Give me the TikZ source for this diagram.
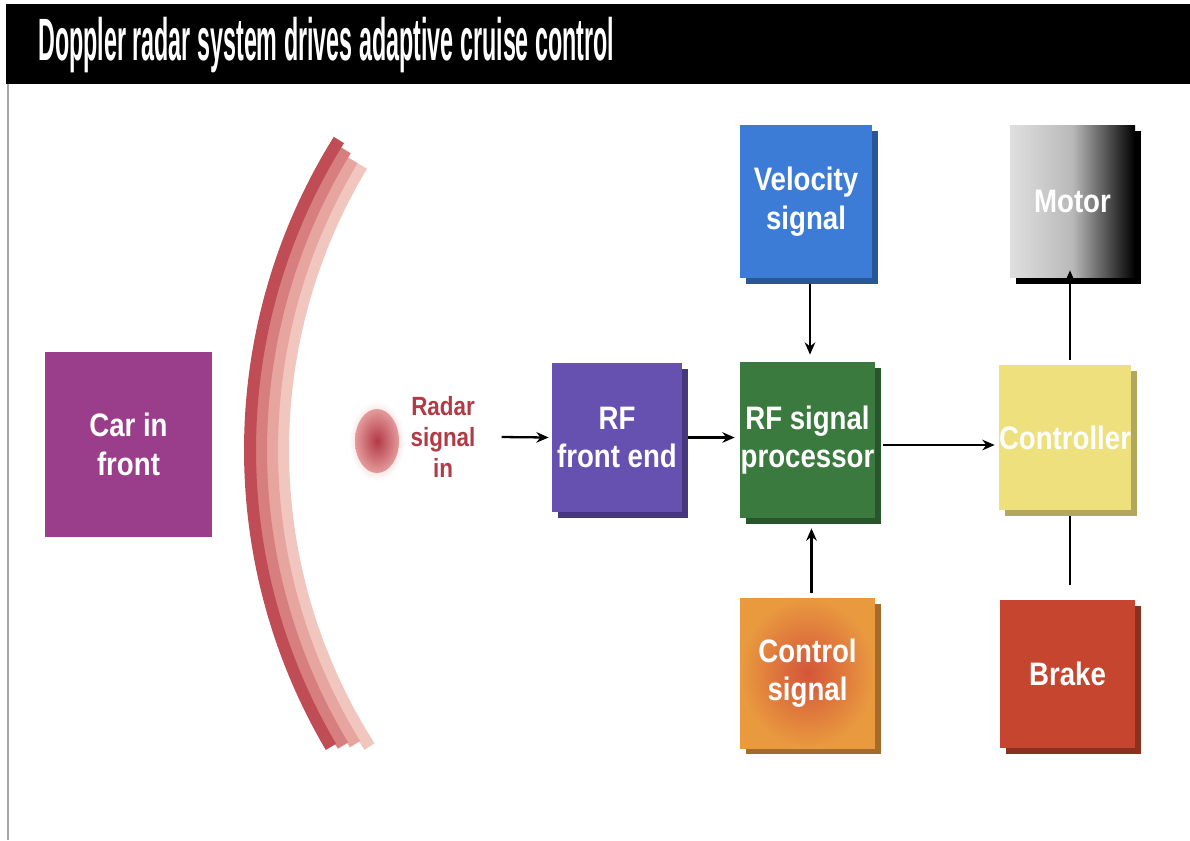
\documentclass[tikz,border=0pt]{standalone}
\usepackage{fontspec}
\setmainfont{Liberation Sans}
\newfontfamily\titlef[FakeStretch=0.39]{Liberation Sans}
\newfontfamily\boxf[FakeStretch=0.85]{Liberation Sans}
\usetikzlibrary{arrows.meta,shadows}
\definecolor{carc}{HTML}{9A3D8A}
\definecolor{rffe}{HTML}{6650B0}
\definecolor{rfsp}{HTML}{3B7A3E}
\definecolor{velc}{HTML}{3C7BD6}
\definecolor{ctrlc}{HTML}{EEE07C}
\definecolor{brakec}{HTML}{C5452F}
\definecolor{orangec}{HTML}{E99A3F}
\definecolor{orangein}{HTML}{D4553A}
\definecolor{radarred}{HTML}{B23A45}
\definecolor{blobpink}{HTML}{E49A9C}
\definecolor{arc1}{HTML}{C04C56}
\definecolor{arc2}{HTML}{D77F7E}
\definecolor{arc3}{HTML}{E6A59F}
\definecolor{arc4}{HTML}{F1C6BF}
\tikzset{
  blk/.style={rectangle, inner sep=0pt, align=center, text=white,
    font=\boxf\bfseries\fontsize{18.5}{22}\selectfont},
  shd/.style={general shadow={fill=#1, shadow xshift=0.12cm, shadow yshift=-0.12cm}},
  arr/.style={draw=black, line width=1.3pt, -{Stealth[length=7pt,width=6pt]}},
  ln/.style={draw=black, line width=1.6pt},
}
\begin{document}
\begin{tikzpicture}[x=0.02cm,y=-0.02cm]
\useasboundingbox (0,0) rectangle (1190,840);
\fill[white] (0,0) rectangle (1190,840);
% title bar
\fill[black] (6,4) rectangle (1190,84);
\node[anchor=west, text=white, font=\titlef\bfseries\fontsize{34}{36}\selectfont] (title) at (32,45) {Doppler radar system drives adaptive cruise control};
\draw[gray!70, line width=0.6pt] (8,84) -- (8,840);
% arc
\draw[arc4, line width=0.24cm] (835,450) ++(147.5:552) arc[start angle=147.5, end angle=211, radius=552];
\draw[arc3, line width=0.24cm] (835,450) ++(148.5:563) arc[start angle=148.5, end angle=211, radius=563];
\draw[arc2, line width=0.24cm] (835,450) ++(149:574) arc[start angle=149, end angle=211.5, radius=574];
\draw[arc1, line width=0.24cm] (835,450) ++(149.5:585) arc[start angle=149.5, end angle=212, radius=585];
% blob
\shade[inner color=blobpink, outer color=white] (377,441) ellipse[x radius=28, y radius=40];
\shade[inner color=radarred, outer color=blobpink] (377,441) ellipse[x radius=22, y radius=32];
% boxes
\node[blk, fill=carc, minimum width=3.34cm, minimum height=3.7cm] (car) at (128.5,444.5) {Car in\\front};
\node[font=\boxf\bfseries\fontsize{15}{17.5}\selectfont, text=radarred, align=center] (radar) at (443,437) {Radar\\signal\\in};
\node[blk, fill=rffe, shd=rffe!70!black, minimum width=2.6cm, minimum height=2.98cm] (rffe) at (617,437.5) {RF\\front end};
\node[blk, fill=rfsp, shd=rfsp!70!black, minimum width=2.7cm, minimum height=3.12cm] (rfsp) at (807.5,440) {RF signal\\processor};
\node[blk, fill=velc, shd=velc!70!black, minimum width=2.64cm, minimum height=3.06cm] (vel) at (806,201.5) {Velocity\\signal};
\node[blk, fill=ctrlc, shd=ctrlc!75!black, minimum width=2.6cm, minimum height=2.9cm] (ctrl) at (1065,437.5) {Controller};
\node[blk, left color=gray!25, right color=black, middle color=gray!55, shd=black, minimum width=2.5cm, minimum height=3.06cm] (motor) at (1072.5,201.5) {Motor};
\node[blk, inner color=orangein, outer color=orangec, shd=orangec!70!black, minimum width=2.7cm, minimum height=3.0cm] (csig) at (807.5,673) {Control\\signal};
\node[blk, fill=brakec, shd=brakec!70!black, minimum width=2.7cm, minimum height=2.96cm] (brake) at (1067.5,674) {Brake};
% connectors
\draw[arr] ([xshift=0.4cm]radar.east) -- ([xshift=-0.06cm]rffe.west);
\draw[arr] ([xshift=0.12cm]rffe.east) -- ([xshift=-0.1cm]rffe.east -| rfsp.west);
\draw[arr] ([xshift=0.16cm,yshift=-0.1cm]rfsp.east) -- ([xshift=-0.08cm,yshift=-0.1cm]rfsp.east -| ctrl.west);
\draw[arr] ([xshift=0.08cm,yshift=-0.12cm]vel.south) -- ([xshift=0.08cm,yshift=0.14cm]vel.south |- rfsp.north);
\draw[arr] ([xshift=0.08cm,yshift=0.1cm]csig.north) -- ([xshift=0.08cm,yshift=-0.2cm]csig.north |- rfsp.south);
\draw[arr] ([xshift=0.1cm,yshift=0.1cm]ctrl.north) -- ([xshift=0.1cm,yshift=0.16cm]ctrl.north |- motor.south);
\draw[ln] ([xshift=0.1cm,yshift=-0.12cm]ctrl.south) -- ([xshift=0.1cm,yshift=0.3cm]ctrl.south |- brake.north);
\end{tikzpicture}
\end{document}
